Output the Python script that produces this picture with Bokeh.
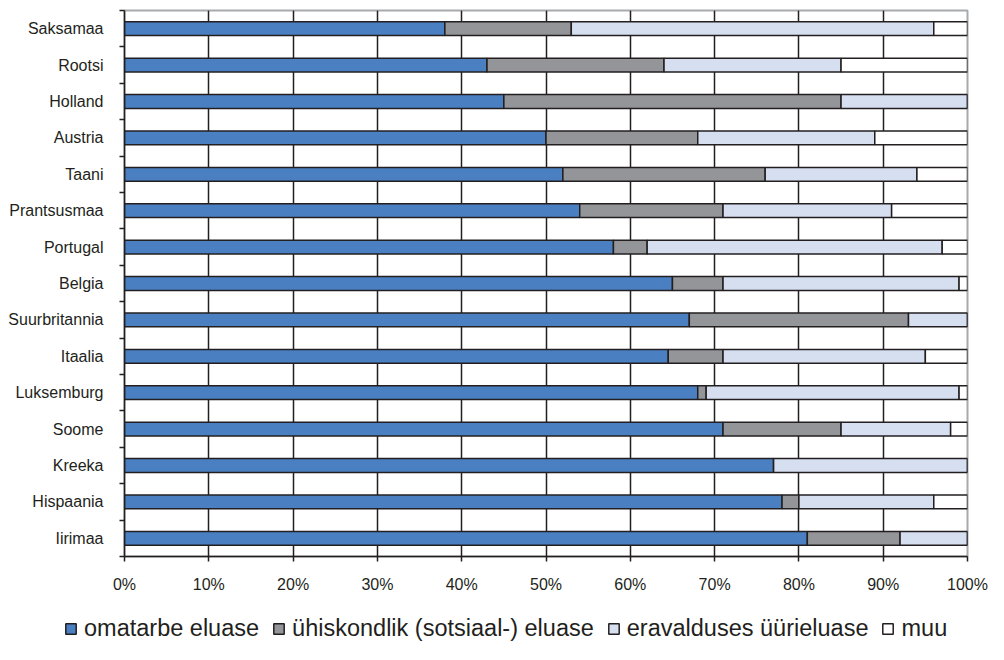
from bokeh.plotting import figure
from bokeh.layouts import column, row
from bokeh.models import (ColumnDataSource, FixedTicker, PrintfTickFormatter, Range1d,
                          Legend, LegendItem)
from bokeh.embed import file_html
from bokeh.resources import INLINE

countries = ["Saksamaa", "Rootsi", "Holland", "Austria", "Taani", "Prantsusmaa", "Portugal",
             "Belgia", "Suurbritannia", "Itaalia", "Luksemburg", "Soome", "Kreeka",
             "Hispaania", "Iirimaa"]
omatarbe = [38, 43, 45, 50, 52, 54, 58, 65, 67, 64.5, 68, 71, 77, 78, 81]
uhiskondlik = [15, 21, 40, 18, 24, 17, 4, 6, 26, 6.5, 1, 14, 0, 2, 11]
eravalduses = [43, 21, 15, 21, 18, 20, 35, 28, 7, 24, 30, 13, 23, 16, 8]
muu = [4, 15, 0, 11, 6, 9, 3, 1, 0, 5, 1, 2, 0, 4, 0]

series_names = ["omatarbe eluase", "ühiskondlik (sotsiaal-) eluase",
                "eravalduses üürieluase", "muu"]
x_ticks = [0, 10, 20, 30, 40, 50, 60, 70, 80, 90, 100]

colors = ["#4a80c2", "#939598", "#d6dff0", "#ffffff"]
ink = "#231f20"
stackers = ["omatarbe", "uhiskondlik", "eravalduses", "muu"]

n = len(countries)
pos = list(range(n))
source = ColumnDataSource(dict(y=pos, omatarbe=omatarbe, uhiskondlik=uhiskondlik,
                               eravalduses=eravalduses, muu=muu))

p = figure(width=988, height=600, output_backend="svg", toolbar_location=None,
           x_range=Range1d(0, 100), y_range=Range1d(n - 0.5, -0.5),
           min_border_left=124, min_border_right=21, min_border_top=10, min_border_bottom=44)

p.hbar_stack(stackers, y="y", height=0.38, color=colors, line_color=ink, line_width=1.5,
             source=source)

# x axis
p.xaxis.ticker = FixedTicker(ticks=x_ticks)
p.xaxis.formatter = PrintfTickFormatter(format="%d%%")
p.xaxis.axis_line_color = ink
p.xaxis.axis_line_width = 1.5
p.xaxis.major_tick_line_color = ink
p.xaxis.major_tick_line_width = 1.5
p.xaxis.major_tick_out = 5
p.xaxis.major_tick_in = 0
p.xaxis.minor_tick_line_color = None
p.xaxis.major_label_standoff = 14
p.xaxis.major_label_text_font = "Liberation Sans"
p.xaxis.major_label_text_font_size = "16px"
p.xaxis.major_label_text_color = ink

# y axis
p.yaxis.ticker = FixedTicker(ticks=pos, minor_ticks=[i - 0.5 for i in range(n + 1)])
p.yaxis.major_label_overrides = {i: c for i, c in enumerate(countries)}
p.yaxis.axis_line_color = ink
p.yaxis.axis_line_width = 1.5
p.yaxis.major_tick_line_color = None
p.yaxis.major_tick_out = 0
p.yaxis.major_tick_in = 0
p.yaxis.minor_tick_line_color = ink
p.yaxis.minor_tick_line_width = 1.5
p.yaxis.minor_tick_out = 5
p.yaxis.minor_tick_in = 0
p.yaxis.major_label_standoff = 16
p.yaxis.major_label_text_font = "Liberation Sans"
p.yaxis.major_label_text_font_size = "16px"
p.yaxis.major_label_text_color = ink

# grid
p.xgrid.ticker = FixedTicker(ticks=x_ticks[1:-1])
p.xgrid.grid_line_color = ink
p.xgrid.grid_line_width = 1.5
p.ygrid.grid_line_color = None

p.outline_line_color = "#a7a9ac"
p.outline_line_width = 2

# legend strip (same series, hidden renderers so only the legend shows)
lg = figure(width=988, height=44, output_backend="svg", toolbar_location=None,
            x_range=Range1d(1000, 1001), y_range=Range1d(100, 101),
            x_axis_type=None, y_axis_type=None,
            min_border_left=0, min_border_right=0, min_border_top=0, min_border_bottom=0)
lg.outline_line_color = None
lg.xgrid.visible = False
lg.ygrid.visible = False
lg_renderers = lg.hbar_stack(stackers, y="y", height=0.38, color=colors, line_color=ink,
                             line_width=1.5, source=source)
for r in lg_renderers:
    r.visible = False

legend = Legend(items=[LegendItem(label=series_names[i], renderers=[lg_renderers[i]])
                       for i in range(4)],
                orientation="horizontal", location=(64, 2),
                label_text_font="Liberation Sans", label_text_font_size="23.5px",
                label_text_color=ink, glyph_width=13, glyph_height=13,
                label_standoff=7, spacing=13, padding=0, margin=0,
                border_line_alpha=0, background_fill_alpha=0,
                inactive_fill_alpha=0)
lg.add_layout(legend, "center")

layout = column(p, row(lg), spacing=0)
open("out.html", "w").write(file_html(layout, INLINE))
